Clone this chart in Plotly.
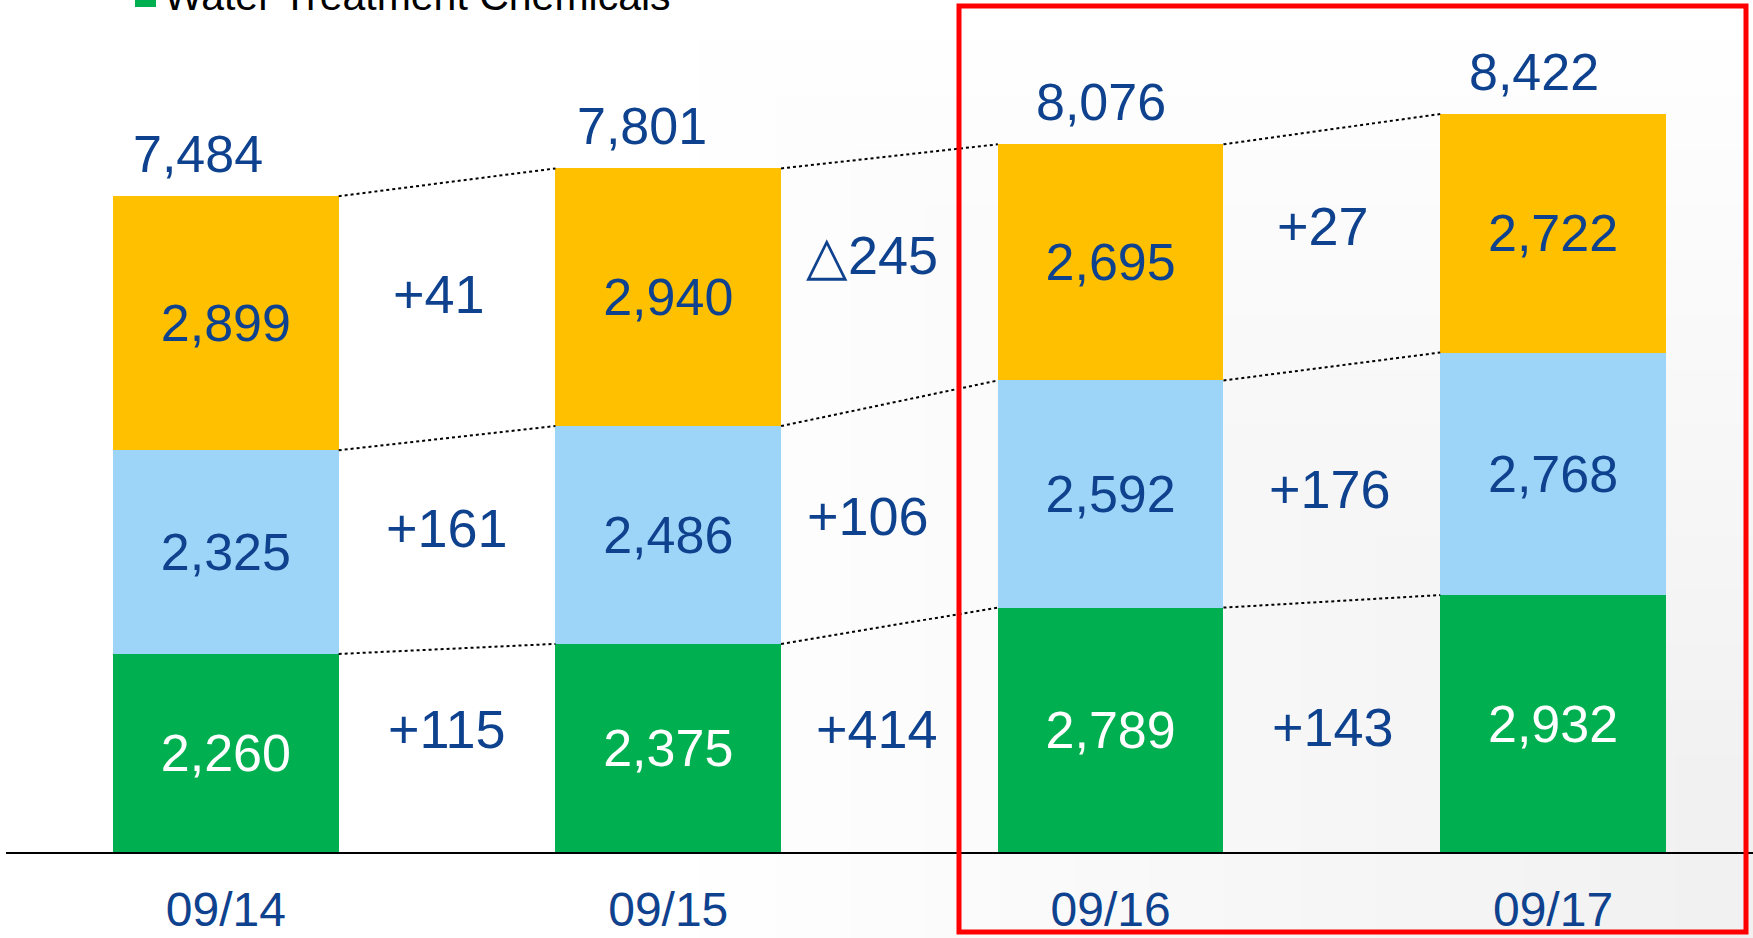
import plotly.graph_objects as go

# ---------------- data ----------------
categories = ["09/14", "09/15", "09/16", "09/17"]
green_vals = [2260, 2375, 2789, 2932]
blue_vals = [2325, 2486, 2592, 2768]
yellow_vals = [2899, 2940, 2695, 2722]
totals = [7484, 7801, 8076, 8422]
legend_label = "Water Treatment Chemicals"

# ---------------- layout constants ----------------
W, H = 1753, 938
ML, MR, MT, MB = 6, 0, 0, 86
BAR_W = 0.51
X_RANGE = [-0.497, 3.452]
Y_RANGE = [0, 9723]

C_YELLOW = "#FFC000"
C_BLUE = "#9DD5F8"
C_GREEN = "#00B050"
C_TEXT = "#0F428E"
FONT = "Liberation Sans, Arial, sans-serif"

# label positions (layout only)
total_dx = [-0.063, -0.059, -0.022, -0.044]
delta_dx = [[0.482, 0.500, 0.500], [0.461, 0.452, 0.472], [0.480, 0.496, 0.503]]
delta_y_yellow = [6368, 6813, 7144]
delta_y_blue = [3697, 3834, 4142]
delta_y_green = [1404, 1404, 1426]

xs = list(range(len(categories)))


def fmt(v):
    return f"{v:,}"


def fmt_delta(d):
    return f"+{d:,}" if d >= 0 else f"\u25b3{abs(d):,}"


fig = go.Figure()

for vals, col, tcol in [(green_vals, C_GREEN, "white"),
                        (blue_vals, C_BLUE, C_TEXT),
                        (yellow_vals, C_YELLOW, C_TEXT)]:
    fig.add_trace(go.Bar(
        x=xs, y=vals, width=BAR_W, marker=dict(color=col, line=dict(width=0)),
        text=[fmt(v) for v in vals], textposition="inside",
        insidetextanchor="middle", textangle=0,
        textfont=dict(family=FONT, size=52, color=tcol),
        hoverinfo="skip", showlegend=False,
    ))

# connector dotted lines
lvl_green = green_vals
lvl_blue = [g + b for g, b in zip(green_vals, blue_vals)]
lvl_total = [g + b + y for g, b, y in zip(green_vals, blue_vals, yellow_vals)]
for lvl in (lvl_green, lvl_blue, lvl_total):
    lx, ly = [], []
    for i in range(len(xs) - 1):
        lx += [xs[i] + BAR_W / 2, xs[i + 1] - BAR_W / 2, None]
        ly += [lvl[i], lvl[i + 1], None]
    fig.add_trace(go.Scatter(x=lx, y=ly, mode="lines",
                             line=dict(color="black", width=2, dash="dot"),
                             hoverinfo="skip", showlegend=False))

annotations = []
# totals
for i, t in enumerate(totals):
    annotations.append(dict(x=xs[i] + total_dx[i], y=t, xref="x", yref="y",
                            text=fmt(t), showarrow=False, yanchor="middle",
                            yshift=42,
                            font=dict(family=FONT, size=52, color=C_TEXT)))
# deltas
rows = [(yellow_vals, delta_y_yellow), (blue_vals, delta_y_blue), (green_vals, delta_y_green)]
for r, (vals, ys) in enumerate(rows):
    for i in range(len(xs) - 1):
        d = vals[i + 1] - vals[i]
        dx = delta_dx[i][r]
        annotations.append(dict(x=xs[i] + dx, y=ys[i], xref="x", yref="y",
                                text=fmt_delta(d), showarrow=False,
                                font=dict(family=FONT, size=54, color=C_TEXT)))

pw = W - ML - MR
ph = H - MT - MB


def px(x):
    return (x - ML) / pw


def py(y):
    return (H - MB - y) / ph


# legend text (cut off at top, as in the original slide)
annotations.append(dict(x=px(162), y=py(-4), xref="paper", yref="paper",
                        xanchor="left", yanchor="middle", text=legend_label,
                        showarrow=False,
                        font=dict(family=FONT, size=41, color="black")))

shapes = []
# subtle background tint toward the bottom-right
n = 14
for k in range(n):
    shapes.append(dict(type="rect", xref="paper", yref="paper", layer="below",
                       x0=px(700 + k * 75), x1=px(W + 5),
                       y0=py(H + 5), y1=py(40 + k * 55),
                       fillcolor="rgba(185,205,226,0.02)", line=dict(width=0)))
# legend square
shapes.append(dict(type="rect", xref="paper", yref="paper",
                   x0=px(135), x1=px(156), y0=py(7), y1=py(-14),
                   fillcolor=C_GREEN, line=dict(width=0)))
# red highlight box
shapes.append(dict(type="rect", xref="paper", yref="paper", layer="above",
                   x0=px(959), x1=px(1746), y0=py(932), y1=py(6),
                   line=dict(color="#FF0000", width=5),
                   fillcolor="rgba(0,0,0,0)"))

fig.update_layout(
    width=W, height=H,
    margin=dict(l=ML, r=MR, t=MT, b=MB, pad=0, autoexpand=False),
    barmode="stack",
    paper_bgcolor="white",
    plot_bgcolor="rgba(0,0,0,0)",
    showlegend=False,
    annotations=annotations,
    shapes=shapes,
    xaxis=dict(range=X_RANGE, tickmode="array", tickvals=xs, ticktext=categories,
               showline=True, linecolor="black", linewidth=1.5,
               showgrid=False, zeroline=False, ticks="", automargin=False,
               ticklabelstandoff=15,
               tickfont=dict(family=FONT, size=48, color=C_TEXT)),
    yaxis=dict(range=Y_RANGE, visible=False, showgrid=False, zeroline=False,
               automargin=False),
)

fig.write_html("out.html",
               config={"displayModeBar": False},
               post_script="document.body.style.margin='0';"
                           "document.body.style.overflow='hidden';")
